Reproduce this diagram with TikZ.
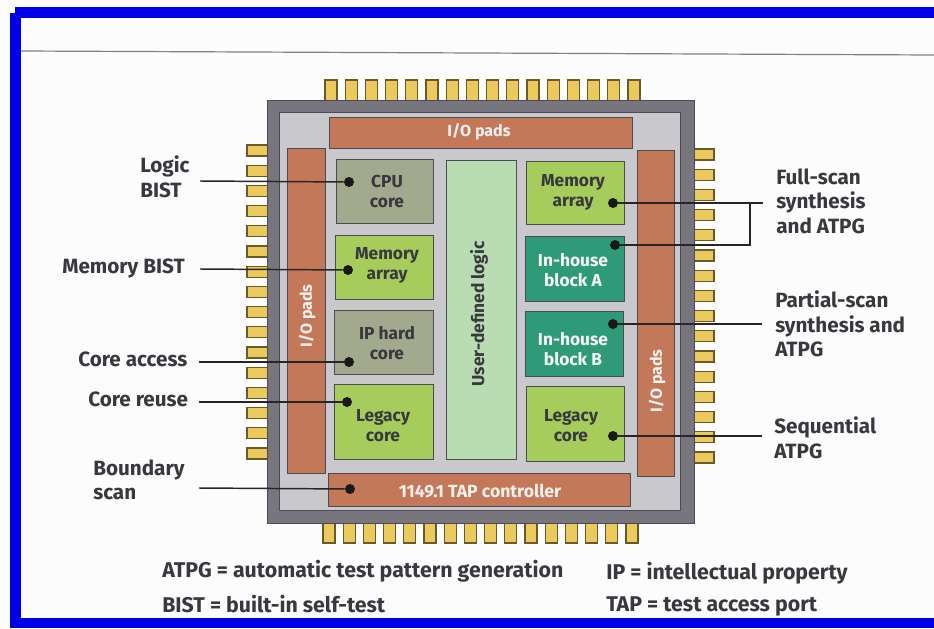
\documentclass[tikz,border=0pt]{standalone}
\usepackage{fontspec}
\setmainfont{Fira Sans}
\usepackage{tikz}
\definecolor{framecol}{HTML}{0000E6}
\definecolor{pkgcol}{HTML}{77767E}
\definecolor{diecol}{HTML}{C9C9CD}
\definecolor{padcol}{HTML}{C4785A}
\definecolor{corecol}{HTML}{A3A98C}
\definecolor{limecol}{HTML}{A6CC5C}
\definecolor{tealcol}{HTML}{2F9A78}
\definecolor{logiccol}{HTML}{B9DCB2}
\definecolor{pincol}{HTML}{ECC95C}
\definecolor{inkcol}{HTML}{38383E}
\definecolor{edgecol}{HTML}{4C4C50}
\tikzset{
  blocksize/.style 2 args={minimum width=#1*0.75pt,minimum height=#2*0.75pt,inner sep=0pt},
  blockbox/.style={draw=edgecol,line width=0.7pt},
  pinbox/.style={fill=pincol,draw=black!55!pincol,line width=0.8pt},
  blocktext/.style={font=\fontsize{13}{15}\selectfont\bfseries,align=center,text=#1,inner sep=0pt},
  blocktext/.default=inkcol,
  padtext/.style={font=\fontsize{12}{13}\selectfont\bfseries,text=white!90!padcol,inner sep=0pt},
  sidelabel/.style={font=\fontsize{15.5}{18.4}\selectfont\bfseries,text=inkcol,align=left,anchor=west,inner sep=0pt},
  keytext/.style={font=\fontsize{16}{18}\selectfont\bfseries,text=inkcol,anchor=west,inner sep=0pt},
  tapdot/.style={circle,fill=black!90,inner sep=0pt,minimum size=7.5pt},
  leader/.style={draw=black!85,line width=1.1pt},
}
\begin{document}
\begin{tikzpicture}[x=0.75pt,y=-0.75pt]
  \useasboundingbox (0,0) rectangle (934,628);
  \fill[white!99!black] (0,0) rectangle (934,628);
  % blue frame
  \fill[framecol] (10,13) rectangle (21,628);
  \fill[framecol] (15,7) rectangle (934,18);
  \fill[framecol] (10,618) rectangle (934,628);
  \coordinate (ruleleft) at (21,51);
  \coordinate (ruleright) at (934,55);
  \draw[gray,line width=0.9pt] (ruleleft) -- (ruleright);
  % pins
  \foreach \i in {0,...,15} {
    \draw[pinbox] ({325+20.2*\i},80) rectangle ({337+20.2*\i},101);
    \draw[pinbox] ({323+20.2*\i},522) rectangle ({335+20.2*\i},543);
    \draw[pinbox] (247,{145+20.2*\i}) rectangle (268,{156+20.2*\i});
    \draw[pinbox] (693,{149+20.2*\i}) rectangle (714,{160+20.2*\i});
  }
  % package and die
  \node[blockbox,fill=pkgcol,blocksize={427}{423}] (package) at (480.5,311.5) {};
  \node[blockbox,fill=diecol,blocksize={401}{398}] (die) at (480,311) {};
  % pads
  \node[blockbox,fill=padcol,blocksize={303}{31}] (padstop) at (480.5,132.5) {};
  \node[padtext] (padstoptext) at (479,132) {I/O pads};
  \node[blockbox,fill=padcol,blocksize={38}{325}] (padsleft) at (306,310.5) {};
  \node[padtext,rotate=90] (padslefttext) at (307,316) {I/O pads};
  \node[blockbox,fill=padcol,blocksize={37}{326}] (padsright) at (655.5,313) {};
  \node[padtext,rotate=90] (padsrighttext) at (657,381) {I/O pads};
  \node[blockbox,fill=padcol,blocksize={302}{33}] (tapbox) at (479,489.5) {};
  \node[padtext,font=\fontsize{13.2}{15}\selectfont\bfseries] (taptext) at (480,491.5) {1149.1 TAP controller};
  % left column
  \node[blockbox,fill=corecol,blocksize={97}{64}] (cpubox) at (384.5,191) {};
  \node[blocktext] (cputext) at (387,191.5) {CPU\\core};
  \node[blockbox,fill=limecol,blocksize={98}{64}] (memleftbox) at (384,267) {};
  \node[blocktext] (memlefttext) at (387,265.5) {Memory\\array};
  \node[blockbox,fill=corecol,blocksize={99}{64}] (ipbox) at (383.5,342) {};
  \node[blocktext] (iptext) at (387,343) {IP hard\\core};
  \node[blockbox,fill=limecol,blocksize={99}{75}] (legleftbox) at (383.5,421.5) {};
  \node[blocktext] (leglefttext) at (383,426) {Legacy\\core};
  % middle
  \node[blockbox,fill=logiccol,blocksize={70}{299}] (logicbox) at (481,309.5) {};
  \node[blocktext,rotate=90] (logictext) at (479,314) {User-defined logic};
  % right column
  \node[blockbox,fill=limecol,blocksize={98}{63}] (memrightbox) at (575,192.5) {};
  \node[blocktext] (memrighttext) at (573,192.5) {Memory\\array};
  \node[blockbox,fill=tealcol,blocksize={99}{65}] (blockabox) at (574.5,268.5) {};
  \node[blocktext=white!85!logiccol] (blockatext) at (573,270.5) {In-house\\block A};
  \node[blockbox,fill=tealcol,blocksize={98}{65}] (blockbbox) at (574,343.5) {};
  \node[blocktext=white!85!logiccol] (blockbtext) at (573,349.5) {In-house\\block B};
  \node[blockbox,fill=limecol,blocksize={98}{75}] (legrightbox) at (575,423.5) {};
  \node[blocktext] (legrighttext) at (571,426) {Legacy\\core};
  % dots
  \node[tapdot] (cpudot) at (349,182) {};
  \node[tapdot] (memleftdot) at (348,270) {};
  \node[tapdot] (ipdot) at (349,362) {};
  \node[tapdot] (legleftdot) at (347,402) {};
  \node[tapdot] (tapdot) at (350,489) {};
  \node[tapdot] (memrightdot) at (613,203) {};
  \node[tapdot] (blockadot) at (615,245) {};
  \node[tapdot] (blockbdot) at (613,324) {};
  \node[tapdot] (legrightdot) at (613,436) {};
  % labels
  \node[sidelabel] (logicbist) at (140,177) {Logic\\BIST};
  \node[sidelabel] (membist) at (62,268) {Memory BIST};
  \node[sidelabel] (coreaccess) at (78,359) {Core access};
  \node[sidelabel] (corereuse) at (88,399) {Core reuse};
  \node[sidelabel] (boundary) at (93,480) {Boundary\\scan};
  \node[sidelabel] (fullscan) at (776,201) {Full-scan\\synthesis\\and ATPG};
  \node[sidelabel] (partialscan) at (775,324) {Partial-scan\\synthesis and\\ATPG};
  \node[sidelabel] (sequential) at (774,438) {Sequential\\ATPG};
  % key
  \node[keytext] (keyatpg) at (162,571) {ATPG = automatic test pattern generation};
  \node[keytext] (keybist) at (162,604) {BIST = built-in self-test};
  \node[keytext] (keyip) at (606,573) {IP = intellectual property};
  \node[keytext] (keytap) at (606,606) {TAP = test access port};
  % connectors
  \coordinate (logicend) at (200,181);
  \coordinate (memend) at (200,269);
  \coordinate (accessend) at (199,362);
  \coordinate (reuseend) at (199,402);
  \coordinate (boundaryend) at (199,488);
  \coordinate (fullend) at (763,203);
  \coordinate (fulljoin) at (750,203);
  \coordinate (partialend) at (762,324);
  \coordinate (seqend) at (762,436);
  \draw[leader] (logicend) -- (cpudot);
  \draw[leader] (memend) -- (memleftdot);
  \draw[leader] (accessend) -- (ipdot);
  \draw[leader] (reuseend) -- (legleftdot);
  \draw[leader] (boundaryend) -- (tapdot);
  \draw[leader] (memrightdot) -- (fullend);
  \draw[leader] (blockadot) -| (fulljoin);
  \draw[leader] (blockbdot) -- (partialend);
  \draw[leader] (legrightdot) -- (seqend);
\end{tikzpicture}
\end{document}
